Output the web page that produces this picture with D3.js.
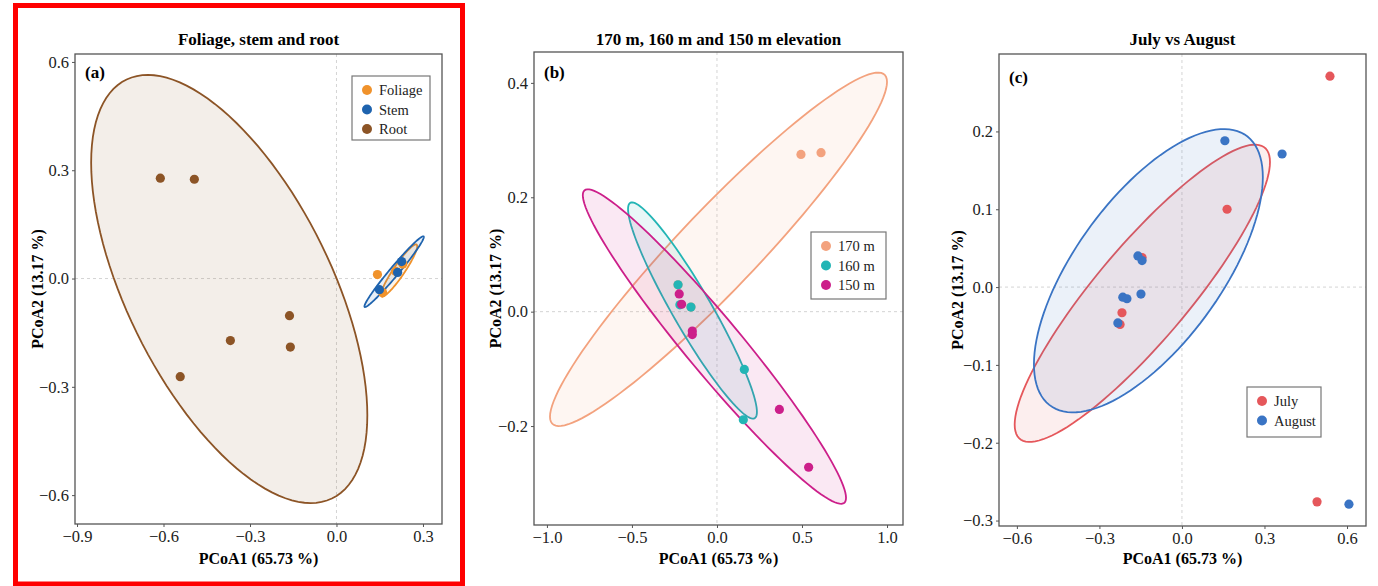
<!DOCTYPE html>
<html>
<head>
<meta charset="utf-8">
<script src="https://cdn.jsdelivr.net/npm/d3@7"></script>
<style>
  body { margin: 0; background: #fff; }
  text { font-family: "Liberation Serif", "Times New Roman", serif; }
</style>
</head>
<body>
<svg id="chart" width="1378" height="586"></svg>
<script>
// ---- data (PCoA scores) ----
var axisX = "PCoA1 (65.73 %)"
var axisY = "PCoA2 (13.17 %)"

// (a) tissue
var tissueGroups = ["Foliage", "Stem", "Root"]
var foliageX = [0.142, 0.160, 0.205, 0.230]
var foliageY = [0.011, -0.039, 0.020, 0.040]
var stemX = [0.226, 0.212, 0.149]
var stemY = [0.047, 0.017, -0.031]
var rootX = [-0.611, -0.493, -0.163, -0.368, -0.160, -0.542]
var rootY = [0.278, 0.275, -0.103, -0.172, -0.190, -0.272]
// ellipse: centre x, centre y, sd x, sd y, correlation
var foliageEll = [0.217, 0.022, 0.063, 0.0725, 0.93]
var stemEll = [0.200, 0.019, 0.103, 0.098, 0.98]
var rootEll = [-0.372, -0.029, 0.479, 0.593, -0.59]
var ticksAX = [-0.9, -0.6, -0.3, 0, 0.3]
var ticksAY = [-0.6, -0.3, 0, 0.3, 0.6]

// (b) elevation
var elevGroups = ["170 m", "160 m", "150 m"]
var e170X = [0.494, 0.612, -0.229, -0.153]
var e170Y = [0.275, 0.278, 0.047, 0.008]
var e160X = [-0.229, -0.218, -0.153, 0.161, 0.155]
var e160Y = [0.047, 0.012, 0.008, -0.101, -0.189]
var e150X = [-0.222, -0.208, -0.145, -0.145, 0.367, 0.539]
var e150Y = [0.031, 0.013, -0.034, -0.040, -0.171, -0.272]
var e170Ell = [0.009, 0.109, 0.991, 0.309, 0.947]
var e160Ell = [-0.144, 0.002, 0.379, 0.189, -0.938]
var e150Ell = [-0.015, -0.061, 0.774, 0.275, -0.962]
var ticksBX = [-1.0, -0.5, 0, 0.5, 1.0]
var ticksBY = [-0.2, 0, 0.2, 0.4]

// (c) month
var monthGroups = ["July", "August"]
var julyX = [0.538, 0.164, -0.145, -0.218, -0.225, 0.491]
var julyY = [0.271, 0.100, 0.038, -0.033, -0.048, -0.276]
var augX = [0.156, 0.364, -0.160, -0.145, -0.215, -0.200, -0.149, -0.233, 0.607]
var augY = [0.188, 0.171, 0.040, 0.034, -0.013, -0.015, -0.009, -0.046, -0.279]
var julyEll = [-0.144, -0.008, 0.464, 0.191, 0.883]
var augEll = [-0.122, 0.021, 0.416, 0.182, 0.66]
var ticksCX = [-0.6, -0.3, 0, 0.3, 0.6]
var ticksCY = [-0.3, -0.2, -0.1, 0, 0.1, 0.2]

// ---- panels ----
var panels = [
    {
        title: "Foliage, stem and root", tag: "(a)",
        box: { l: 75, r: 442, t: 54, b: 524 },
        xDom: [-0.907, 0.366], yDom: [-0.680, 0.622],
        xTicks: ticksAX, yTicks: ticksAY,
        groups: tissueGroups,
        colors: ["#F0922B", "#1E63AE", "#8C5426"],
        xs: [foliageX, stemX, rootX], ys: [foliageY, stemY, rootY],
        ells: [foliageEll, stemEll, rootEll],
        ellOrder: [2, 0, 1],
        legend: { x: 352, y: 76, w: 78, h: 64 },
        yTitleX: 43, tagY: 78
    },
    {
        title: "170 m, 160 m and 150 m elevation", tag: "(b)",
        box: { l: 534, r: 903, t: 52, b: 525 },
        xDom: [-1.076, 1.094], yDom: [-0.373, 0.454],
        xTicks: ticksBX, yTicks: ticksBY,
        groups: elevGroups,
        colors: ["#F3A27E", "#23B5B5", "#CC1F8A"],
        xs: [e170X, e160X, e150X], ys: [e170Y, e160Y, e150Y],
        ells: [e170Ell, e160Ell, e150Ell],
        ellOrder: [0, 1, 2],
        legend: { x: 811, y: 232, w: 75, h: 67 },
        yTitleX: 501, tagY: 78
    },
    {
        title: "July vs August", tag: "(c)",
        box: { l: 999, r: 1366, t: 54, b: 526 },
        xDom: [-0.665, 0.669], yDom: [-0.307, 0.2995],
        xTicks: ticksCX, yTicks: ticksCY,
        groups: monthGroups,
        colors: ["#E5575B", "#3A74C4"],
        xs: [julyX, augX], ys: [julyY, augY],
        ells: [julyEll, augEll],
        ellOrder: [0, 1],
        legend: { x: 1247, y: 387, w: 74, h: 50 },
        yTitleX: 963, tagY: 83
    }
]

var svg = d3.select("#chart")
var f = d3.format(".1f")

// red highlight frame round panel (a)
svg.append("rect")
    .attr("x", 15.5).attr("y", 5.5)
    .attr("width", 447).attr("height", 578.5)
    .attr("fill", "none").attr("stroke", "#FF0000").attr("stroke-width", 5)

function ellipsePoints(e) {
    var pts = []
    var k = Math.sqrt(1 - e[4] * e[4])
    for (var i = 0; i < 120; i++) {
        var t = i / 120 * 2 * Math.PI
        var u = Math.cos(t), v = Math.sin(t)
        pts.push([e[0] + e[2] * u, e[1] + e[3] * (e[4] * u + k * v)])
    }
    return pts
}

panels.forEach(function(p) {
    var b = p.box
    var x = d3.scaleLinear().domain(p.xDom).range([b.l, b.r])
    var y = d3.scaleLinear().domain(p.yDom).range([b.b, b.t])
    var g = svg.append("g")

    // zero reference lines
    g.append("line")
        .attr("x1", x(0)).attr("x2", x(0)).attr("y1", b.t).attr("y2", b.b)
        .attr("stroke", "#d4d4d4").attr("stroke-dasharray", "3,3")
    g.append("line")
        .attr("x1", b.l).attr("x2", b.r).attr("y1", y(0)).attr("y2", y(0))
        .attr("stroke", "#d4d4d4").attr("stroke-dasharray", "3,3")

    // ellipses
    var line = d3.line()
        .x(function(d) { return x(d[0]) })
        .y(function(d) { return y(d[1]) })
        .curve(d3.curveLinearClosed)
    p.ellOrder.forEach(function(i) {
        g.append("path")
            .attr("d", line(ellipsePoints(p.ells[i])))
            .attr("fill", p.colors[i]).attr("fill-opacity", 0.1)
            .attr("stroke", p.colors[i]).attr("stroke-width", 1.8)
    })

    // points
    p.groups.forEach(function(name, i) {
        g.selectAll(null)
            .data(d3.zip(p.xs[i], p.ys[i]))
            .enter()
            .append("circle")
            .attr("cx", function(d) { return x(d[0]) })
            .attr("cy", function(d) { return y(d[1]) })
            .attr("r", 4.6)
            .attr("fill", p.colors[i])
    })

    // frame
    g.append("rect")
        .attr("x", b.l).attr("y", b.t)
        .attr("width", b.r - b.l).attr("height", b.b - b.t)
        .attr("fill", "none").attr("stroke", "#555").attr("stroke-width", 1.3)

    // axes
    var ax = g.append("g").attr("transform", "translate(0," + b.b + ")")
        .call(d3.axisBottom(x).tickValues(p.xTicks).tickFormat(f).tickSize(3))
    var ay = g.append("g").attr("transform", "translate(" + b.l + ",0)")
        .call(d3.axisLeft(y).tickValues(p.yTicks).tickFormat(f).tickSize(3))
    ;[ax, ay].forEach(function(a) {
        a.select(".domain").remove()
        a.selectAll("line").attr("stroke", "#555")
        a.selectAll("text")
            .style("font-family", '"Liberation Serif", serif')
            .style("font-size", "16.5px").attr("fill", "#222")
    })

    // titles
    g.append("text")
        .attr("x", (b.l + b.r) / 2).attr("y", 45)
        .attr("text-anchor", "middle")
        .style("font-size", "17px").style("font-weight", "bold")
        .text(p.title)
    g.append("text")
        .attr("x", (b.l + b.r) / 2).attr("y", 564)
        .attr("text-anchor", "middle")
        .style("font-size", "16px").style("font-weight", "bold")
        .text(axisX)
    g.append("text")
        .attr("transform", "translate(" + p.yTitleX + "," + (b.t + b.b) / 2 + ") rotate(-90)")
        .attr("text-anchor", "middle")
        .style("font-size", "16px").style("font-weight", "bold")
        .text(axisY)
    g.append("text")
        .attr("x", b.l + 10).attr("y", p.tagY)
        .style("font-size", "17px").style("font-weight", "bold")
        .text(p.tag)

    // legend
    var L = p.legend
    var lg = g.append("g").attr("transform", "translate(" + L.x + "," + L.y + ")")
    lg.append("rect")
        .attr("width", L.w).attr("height", L.h)
        .attr("fill", "#fff").attr("stroke", "#777").attr("stroke-width", 1.2)
    p.groups.forEach(function(name, i) {
        var cy = 14 + i * 19.5
        lg.append("circle").attr("cx", 15).attr("cy", cy).attr("r", 5).attr("fill", p.colors[i])
        lg.append("text").attr("x", 27).attr("y", cy + 5)
            .style("font-size", "14.5px").attr("fill", "#222")
            .text(name)
    })
})
</script>
</body>
</html>
